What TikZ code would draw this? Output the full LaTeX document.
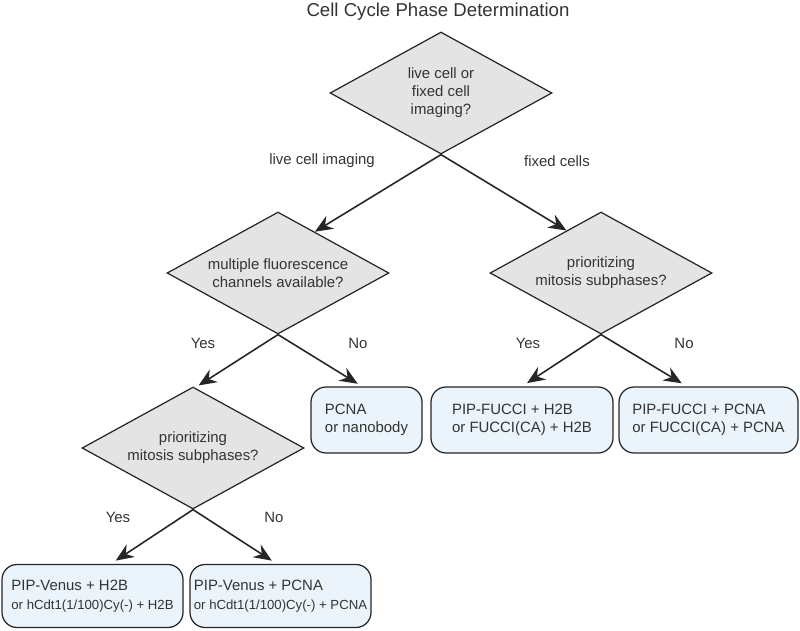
\documentclass[tikz,border=0pt]{standalone}
\usepackage{fontspec}
\setmainfont{Liberation Sans}
\usepackage{xcolor}
\usetikzlibrary{calc,shapes.geometric,arrows.meta}
\definecolor{inkgray}{HTML}{333333}
\definecolor{linegray}{HTML}{262626}
\definecolor{diamondfill}{HTML}{E4E4E4}
\definecolor{boxfill}{HTML}{EAF4FA}

\begin{document}
\begin{tikzpicture}[x=0.02cm, y=-0.02cm,
  every node/.style={text=inkgray, font=\fontsize{8.5}{10.2}\selectfont},
  decision/.style={diamond, draw=linegray, fill=diamondfill, line width=0.7pt, aspect=1.82, inner sep=0pt, minimum width=4.44cm, minimum height=2.44cm, align=center},
  outcome/.style={rectangle, rounded corners=0.3cm, draw=linegray, fill=boxfill, line width=0.7pt, align=left, inner sep=0pt},
  flow/.style={draw=linegray, line width=0.9pt, -{Stealth[length=3.6mm, width=3mm, inset=1.2mm]}}]
  \useasboundingbox (0,0) rectangle (800,631);
  \node[font=\fontsize{10.6}{13}\selectfont] (title) at (438,12) {Cell Cycle Phase Determination};
  % decisions
  \node[decision] (imaging) at (441,93) {live cell or\\fixed cell\\imaging?};
  \node[decision] (channels) at (278,273) {multiple fluorescence\\channels available?};
  \node[decision] (fixedmit) at (601,273) {prioritizing\\mitosis subphases?};
  \node[decision] (livemit) at (193,448) {prioritizing\\mitosis subphases?};
  % outcomes
  \node[outcome, minimum width=2.22cm, minimum height=1.32cm] (pcna) at (366.5,420) {PCNA\\or nanobody};
  \node[outcome, minimum width=3.64cm, minimum height=1.32cm] (fucch2b) at (522,420) {PIP-FUCCI + H2B\\or FUCCI(CA) + H2B};
  \node[outcome, minimum width=3.58cm, minimum height=1.32cm] (fuccpcna) at (708.5,420) {PIP-FUCCI + PCNA\\or FUCCI(CA) + PCNA};
  \node[outcome, minimum width=3.62cm, minimum height=1.26cm] (venush2b) at (92.5,596) {PIP-Venus + H2B\\[1pt]\fontsize{7.5}{9}\selectfont or hCdt1(1/100)Cy(-) + H2B};
  \node[outcome, minimum width=3.62cm, minimum height=1.26cm] (venuspcna) at (280.5,596) {PIP-Venus + PCNA\\[1pt]\fontsize{7.5}{9}\selectfont or hCdt1(1/100)Cy(-) + PCNA};
  % branch labels
  \node (livelbl) at (322,161) {live cell imaging};
  \node (fixedlbl) at (557,161) {fixed cells};
  \node (chyes) at (203,343) {Yes};
  \node (chno) at (358,343) {No};
  \node (fxyes) at (528,343) {Yes};
  \node (fxno) at (684,343) {No};
  \node (lvyes) at (118,517) {Yes};
  \node (lvno) at (274,517) {No};
  % arrows
  \draw[flow] (imaging.south) -- ($(channels.north)!0.33!(channels.east)$);
  \draw[flow] (imaging.south) -- ($(fixedmit.north)!0.31!(fixedmit.west)$);
  \draw[flow, shorten >=0.8mm] (channels.south) -- ($(livemit.north)!0.02!(livemit.east)$);
  \draw[flow, shorten >=1mm] (channels.south) -- ($(pcna.north west)!0.46!(pcna.north east)$);
  \draw[flow, shorten >=1.2mm] (fixedmit.south) -- (fucch2b.north);
  \draw[flow, shorten >=1.2mm] (fixedmit.south) -- ($(fuccpcna.north west)!0.38!(fuccpcna.north east)$);
  \draw[flow, shorten >=1.2mm] (livemit.south) -- ($(venush2b.north west)!0.6!(venush2b.north east)$);
  \draw[flow, shorten >=1.2mm] (livemit.south) -- ($(venuspcna.north west)!0.48!(venuspcna.north east)$);
\end{tikzpicture}
\end{document}
